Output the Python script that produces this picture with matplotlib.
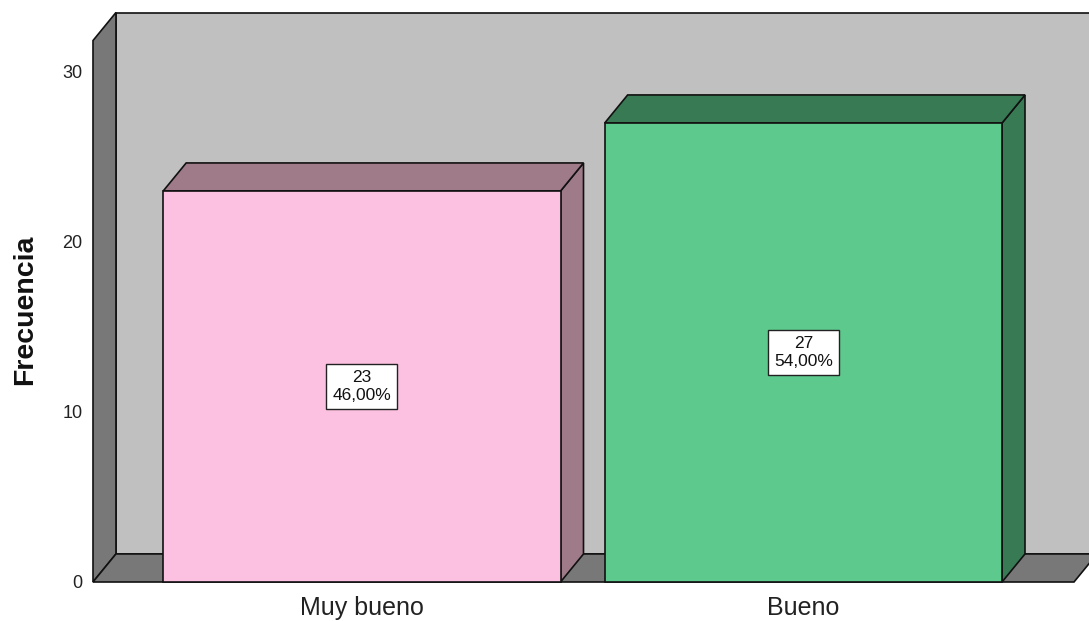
import matplotlib
matplotlib.use("Agg")
import matplotlib.pyplot as plt
from matplotlib.patches import Polygon, Rectangle

# ---- data ----
categories = ["Muy bueno", "Bueno"]
counts = [23, 27]
percents = ["46,00%", "54,00%"]
yticks = [0, 10, 20, 30]

# ---- style ----
front_colors = ["#FCC0E0", "#5DC98C"]
dark_colors = ["#9F7A89", "#387A54"]
wall_color = "#C0C0C0"
side_color = "#787878"
edge = "#111111"
lw = 1.2

plt.rcParams["font.family"] = ["Liberation Sans", "DejaVu Sans"]

W, H = 1089, 621
fig = plt.figure(figsize=(W / 100, H / 100), dpi=100)
ax = fig.add_axes([93 / W, (H - 582) / H, 981 / W, 544 / H])

xl, xr = -0.609, 1.613
ymax = 31.85
dx, dy = 0.052, 1.65
bw = 0.9

ax.set_xlim(xl, xr)
ax.set_ylim(0, 32)

# back wall
ax.add_patch(Rectangle((xl + dx, dy), (xr - xl) + 0.2, ymax, facecolor=wall_color,
                       edgecolor=edge, lw=lw, clip_on=False, zorder=1))
# side wall
ax.add_patch(Polygon([(xl, 0), (xl + dx, dy), (xl + dx, ymax + dy), (xl, ymax)],
                     closed=True, facecolor=side_color, edgecolor=edge, lw=lw,
                     clip_on=False, zorder=2))
# floor
ax.add_patch(Polygon([(xl, 0), (xr, 0), (xr + dx, dy), (xl + dx, dy)],
                     closed=True, facecolor=side_color, edgecolor=edge, lw=lw,
                     clip_on=False, zorder=2))

# bars
for i, (v, fc, dc, pct) in enumerate(zip(counts, front_colors, dark_colors, percents)):
    x0, x1 = i - bw / 2, i + bw / 2
    ax.add_patch(Polygon([(x1, 0), (x1 + dx, dy), (x1 + dx, v + dy), (x1, v)],
                         closed=True, facecolor=dc, edgecolor=edge, lw=lw,
                         clip_on=False, zorder=3))
    ax.add_patch(Polygon([(x0, v), (x1, v), (x1 + dx, v + dy), (x0 + dx, v + dy)],
                         closed=True, facecolor=dc, edgecolor=edge, lw=lw,
                         clip_on=False, zorder=3))
    ax.add_patch(Rectangle((x0, 0), bw, v, facecolor=fc, edgecolor=edge, lw=lw,
                           clip_on=False, zorder=4))
    ax.text(i, v / 2, f"{v}\n{pct}", ha="center", va="center", fontsize=12.5,
            linespacing=1.2, color="#111111", zorder=5,
            bbox=dict(boxstyle="square,pad=0.36", facecolor="white",
                      edgecolor="#222222", lw=1.0))

ax.set_xticks(range(len(categories)))
ax.set_xticklabels(categories, fontsize=18, color="#222222")
ax.set_yticks(yticks)
ax.set_yticklabels([str(t) for t in yticks], fontsize=13, color="#222222")
ax.tick_params(axis="both", length=0)
ax.tick_params(axis="y", pad=7.5)
ax.tick_params(axis="x", pad=10)
for s in ax.spines.values():
    s.set_visible(False)
ax.patch.set_visible(False)

ax.set_ylabel("Frecuencia", fontsize=20.5, fontweight="bold", color="#111111")
ax.yaxis.set_label_coords(-0.056, 0.5)

fig.savefig("out.png", dpi=100, facecolor="white")
